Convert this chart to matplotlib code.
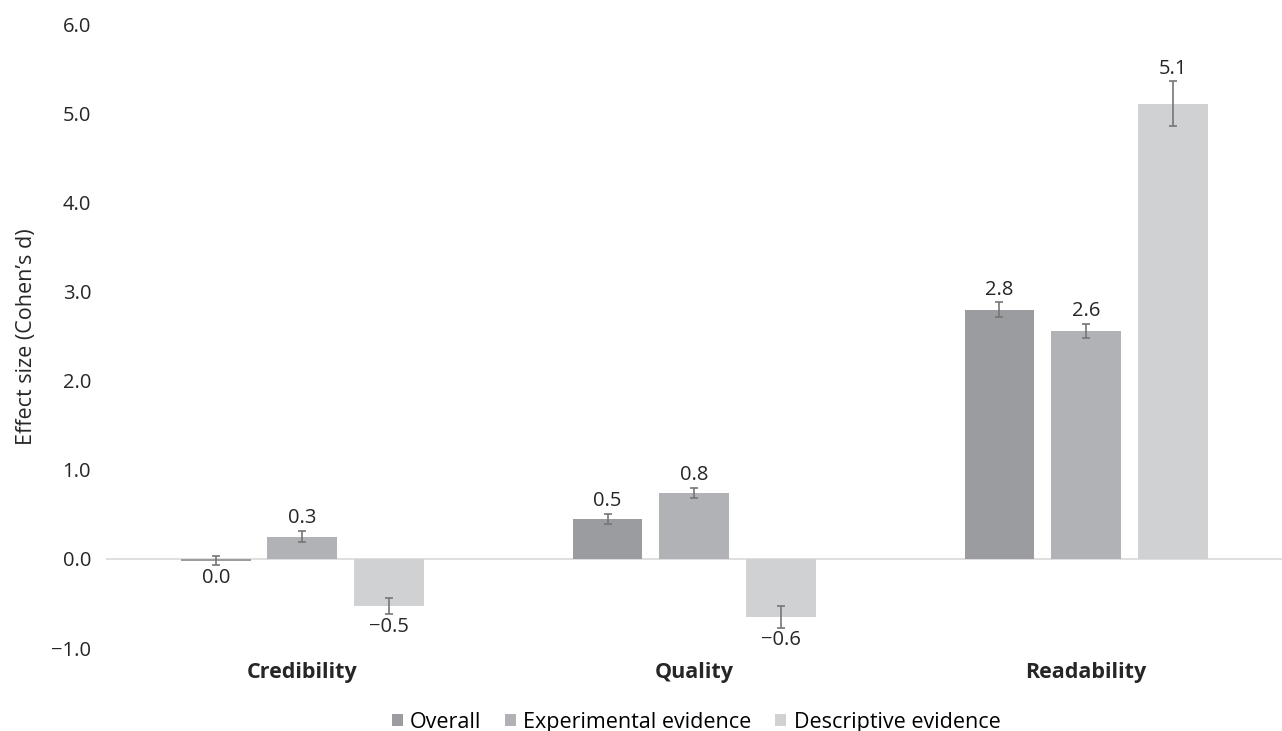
import matplotlib.pyplot as plt
import numpy as np

plt.rcParams['font.family'] = ['Open Sans', 'DejaVu Sans']

categories = ['Credibility', 'Quality', 'Readability']
series = ['Overall', 'Experimental evidence', 'Descriptive evidence']
values = [
    [-0.02, 0.45, 2.80],
    [0.25, 0.74, 2.56],
    [-0.53, -0.65, 5.11],
]
errors = [
    [0.05, 0.06, 0.08],
    [0.065, 0.06, 0.08],
    [0.09, 0.12, 0.25],
]
labels = [
    ['0.0', '0.5', '2.8'],
    ['0.3', '0.8', '2.6'],
    ['\u22120.5', '\u22120.6', '5.1'],
]
colors = ['#9b9c9f', '#b1b2b5', '#d0d1d3']
text_color = '#262626'

fig = plt.figure(figsize=(12.82, 7.31), dpi=100)
ax = fig.add_axes([0.083, 0.1135, 0.917, 0.853])

x = np.arange(len(categories))
width = 0.178
step = 0.221

for i, name in enumerate(series):
    pos = x + (i - 1) * step
    ax.bar(pos, values[i], width, color=colors[i], label=name, zorder=2)
    ax.errorbar(pos, values[i], yerr=errors[i], fmt='none', ecolor='#767676',
                elinewidth=1.2, capsize=3, capthick=1.2, zorder=3)
    for px, v, e, t in zip(pos, values[i], errors[i], labels[i]):
        if v >= 0:
            ax.text(px, v + e + 0.03, t, ha='center', va='bottom', fontsize=14.5, color=text_color)
        else:
            ax.text(px, v - e - 0.03, t, ha='center', va='top', fontsize=14.5, color=text_color)

ax.axhline(0, color='#d9d9d9', lw=1.2, zorder=1)
ax.set_xlim(-0.5, 2.5)
ax.set_ylim(-1, 6)
ax.set_yticks(np.arange(-1, 7, 1))
ax.set_yticklabels(['\u22121.0'] + ['%.1f' % v for v in range(0, 7)], fontsize=14.5, color=text_color)
ax.set_xticks([])
for s in ax.spines.values():
    s.set_visible(False)
ax.tick_params(axis='y', length=0, pad=11)
ax.set_ylabel('Effect size (Cohen\u2019s d)', fontsize=15.5, color=text_color, labelpad=10)

for xi, c in zip(x, categories):
    ax.text(xi, -1.27, c, ha='center', va='center', fontsize=15.5, fontweight='bold', color=text_color)

fig.legend(loc='center', bbox_to_anchor=(0.543, 0.012), ncol=3, frameon=False,
           fontsize=15.5, handlelength=0.5, handleheight=0.5, handletextpad=0.35, columnspacing=1.1,
           borderpad=0.2)

fig.savefig('out.png', dpi=100)
